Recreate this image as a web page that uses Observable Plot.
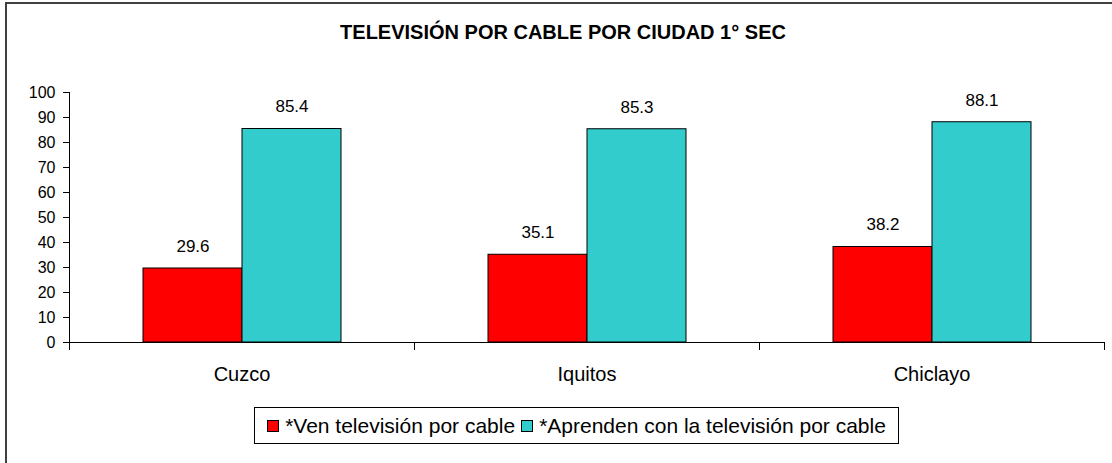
<!DOCTYPE html>
<html>
<head>
<meta charset="utf-8">
<script src="https://cdn.jsdelivr.net/npm/d3@7"></script>
<script src="https://cdn.jsdelivr.net/npm/@observablehq/plot@0.6"></script>
<style>
  html, body { margin: 0; padding: 0; background: #fff; }
  #wrap { position: relative; width: 1112px; height: 463px; overflow: hidden; font-family: "Liberation Sans", Arial, sans-serif; }
  #border { position: absolute; left: 5px; top: 2px; width: 1200px; height: 600px; border-left: 2px solid #404040; border-top: 2px solid #404040; box-sizing: border-box; }
  #title { position: absolute; top: 21px; left: 0; width: 1126px; text-align: center; font-weight: bold; font-size: 20px; line-height: 22px; color: #000; }
  #chart { position: absolute; left: 0; top: 0; }
  #legend { position: absolute; top: 407px; left: 254px; width: 645px; height: 37px; box-sizing: border-box; border: 1px solid #000; display: flex; align-items: center; justify-content: center; font-size: 21px; color: #000; white-space: nowrap; }
  .sw { display: inline-block; width: 10px; height: 10px; border: 1px solid #000; margin-right: 6px; }
  .item { display: flex; align-items: center; margin-right: 6px; }
  .item:last-child { margin-right: 0; }
</style>
</head>
<body>
<div id="wrap">
  <div id="border"></div>
  <div id="chart"></div>
  <div id="title"></div>
  <div id="legend"></div>
</div>
<script>
const titleText = "TELEVISIÓN POR CABLE POR CIUDAD 1° SEC";
const cities = ["Cuzco", "Iquitos", "Chiclayo"];
const series = ["*Ven televisión por cable", "*Aprenden con la televisión por cable"];
const ven = [29.6, 35.1, 38.2];
const aprenden = [85.4, 85.3, 88.1];
const yTicks = [0, 10, 20, 30, 40, 50, 60, 70, 80, 90, 100];
const colors = ["#ff0000", "#33cccc"];

const data = cities.flatMap((c, i) => [
  {city: c, series: series[0], value: ven[i]},
  {city: c, series: series[1], value: aprenden[i]}
]);

document.getElementById("title").textContent = titleText;

const chart = Plot.plot({
  width: 1112,
  height: 463,
  marginLeft: 69,
  marginRight: 8,
  marginTop: 92,
  marginBottom: 121,
  style: {fontFamily: "'Liberation Sans', Arial, sans-serif", fontSize: "16px", color: "#000", background: "transparent", overflow: "visible"},
  fx: {domain: cities, padding: 0, label: null},
  x: {domain: series, paddingInner: 0, paddingOuter: 0.742, axis: null},
  y: {domain: [0, 100], label: null},
  color: {domain: series, range: colors},
  marks: [
    Plot.barY(data, {fx: "city", x: "series", y: "value", fill: "series", stroke: "#000", strokeWidth: 1}),
    Plot.ruleY([0], {stroke: "#000", strokeWidth: 1}),
    Plot.frame({anchor: "left", facetAnchor: "left", insetBottom: -7, stroke: "#000", strokeWidth: 1}),
    Plot.frame({anchor: "right", insetTop: 250, insetBottom: -7, stroke: "#000", strokeWidth: 1}),
    Plot.axisY({ticks: yTicks, tickSize: 6, tickPadding: 8, fontSize: 16, label: null, stroke: "#000"}),
    Plot.axisFx({anchor: "bottom", tickSize: 0, tickPadding: 24, fontSize: 20, label: null}),
    Plot.text(data, {fx: "city", x: "series", y: "value", text: d => d.value.toFixed(1), dy: -22, lineAnchor: "middle", fontSize: 17, fill: "#000"})
  ]
});
document.getElementById("chart").appendChild(chart);

const legend = document.getElementById("legend");
series.forEach((s, i) => {
  const item = document.createElement("span");
  item.className = "item";
  const sw = document.createElement("span");
  sw.className = "sw";
  sw.style.background = colors[i];
  item.appendChild(sw);
  const t = document.createElement("span");
  t.textContent = s;
  item.appendChild(t);
  legend.appendChild(item);
});
</script>
</body>
</html>
